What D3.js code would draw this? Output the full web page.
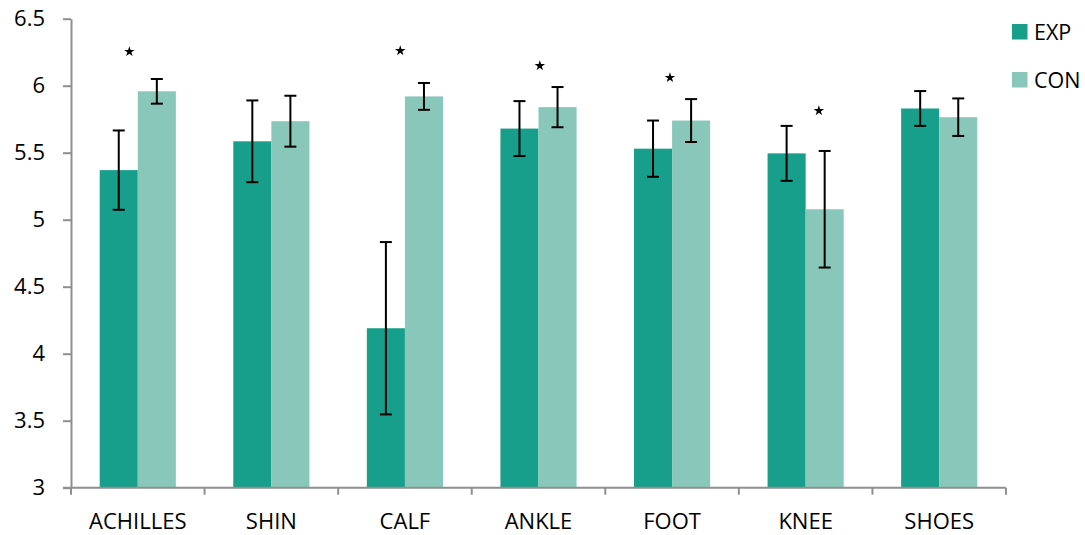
<!DOCTYPE html>
<html>
<head>
<meta charset="utf-8">
<script src="https://cdn.jsdelivr.net/npm/d3@7"></script>
<style>
  html, body { margin: 0; padding: 0; background: #ffffff; }
  svg { display: block; }
  text { font-family: "Open Sans", "Noto Sans", sans-serif; fill: #000; }
</style>
</head>
<body>
<svg id="chart" width="1085" height="535"></svg>
<script>
// Mean scores per body area, experimental vs. control group
const categories = ["ACHILLES", "SHIN", "CALF", "ANKLE", "FOOT", "KNEE", "SHOES"];
const seriesNames = ["EXP", "CON"];
const expMeans = [5.37, 5.585, 4.19, 5.68, 5.53, 5.495, 5.83];
const expErrors = [0.296, 0.305, 0.643, 0.205, 0.21, 0.205, 0.13];
const conMeans = [5.958, 5.735, 5.92, 5.84, 5.74, 5.078, 5.765];
const conErrors = [0.092, 0.19, 0.1, 0.15, 0.16, 0.435, 0.14];
const yTicks = [3, 3.5, 4, 4.5, 5, 5.5, 6, 6.5];

// Significance stars: category, height on the value axis, position across the category slot
const starCategories = ["ACHILLES", "CALF", "ANKLE", "FOOT", "KNEE"];
const starValues = [6.254, 6.261, 6.149, 6.06, 5.813];
const starSlots = [0.437, 0.465, 0.51, 0.484, 0.599];

const colors = { EXP: "#179f8b", CON: "#88c7ba" };
const axisColor = "#8f8f8f";

const svg = d3.select("#chart");
const plotLeft = 71, plotRight = 1006, plotTop = 18.7, plotBottom = 487.7;

const x = d3.scaleBand().domain(categories).range([plotLeft, plotRight]).padding(0);
const bw = x.bandwidth();
const x1 = d3.scaleBand().domain(seriesNames).range([bw * 0.215, bw * 0.785]).padding(0);
const y = d3.scaleLinear().domain([3, 6.5]).range([plotBottom, plotTop]);

const rows = [];
categories.forEach((c, i) => {
  rows.push({ cat: c, series: "EXP", value: expMeans[i], err: expErrors[i] });
  rows.push({ cat: c, series: "CON", value: conMeans[i], err: conErrors[i] });
});

// bars
svg.append("g").selectAll("rect").data(rows).join("rect")
  .attr("x", d => x(d.cat) + x1(d.series))
  .attr("y", d => y(d.value))
  .attr("width", x1.bandwidth())
  .attr("height", d => y(3) - y(d.value))
  .attr("fill", d => colors[d.series]);

// error bars
const capHalf = 6;
const eb = svg.append("g").attr("stroke", "#000").attr("stroke-width", 2);
rows.forEach(d => {
  const cx = x(d.cat) + x1(d.series) + x1.bandwidth() / 2;
  const y0 = y(d.value - d.err), y1 = y(d.value + d.err);
  eb.append("line").attr("x1", cx).attr("x2", cx).attr("y1", y0).attr("y2", y1);
  eb.append("line").attr("x1", cx - capHalf).attr("x2", cx + capHalf).attr("y1", y0).attr("y2", y0);
  eb.append("line").attr("x1", cx - capHalf).attr("x2", cx + capHalf).attr("y1", y1).attr("y2", y1);
});

// y axis
const yAxis = svg.append("g")
  .attr("transform", `translate(${plotLeft},0)`)
  .call(d3.axisLeft(y).tickValues(yTicks).tickFormat(d => String(d)).tickSize(8).tickPadding(18).tickSizeOuter(0));
yAxis.select(".domain").attr("stroke", axisColor).attr("stroke-width", 2);
yAxis.selectAll(".tick line").attr("stroke", axisColor).attr("stroke-width", 2);
yAxis.selectAll(".tick text").attr("font-size", 22).attr("font-family", '"Open Sans", sans-serif').attr("fill", "#000");

// x axis: line, boundary ticks, category labels
const xg = svg.append("g");
xg.append("line").attr("x1", plotLeft - 8).attr("x2", plotRight).attr("y1", plotBottom).attr("y2", plotBottom)
  .attr("stroke", axisColor).attr("stroke-width", 2);
const bounds = categories.map(c => x(c)).concat([x.range()[1]]);
xg.selectAll(".bt").data(bounds).join("line")
  .attr("x1", d => d).attr("x2", d => d).attr("y1", plotBottom).attr("y2", plotBottom + 7)
  .attr("stroke", axisColor).attr("stroke-width", 2);
xg.selectAll(".cl").data(categories).join("text")
  .attr("x", d => x(d) + bw / 2).attr("y", 529)
  .attr("text-anchor", "middle").attr("font-size", 22)
  .text(d => d);

// significance stars
const star = d3.symbol().type(d3.symbolStar).size(34);
svg.append("g").selectAll("path").data(starCategories).join("path")
  .attr("d", star)
  .attr("fill", "#000")
  .attr("transform", (c, i) => `translate(${x(c) + bw * starSlots[i]},${y(starValues[i])})`);

// legend
const lg = svg.append("g");
seriesNames.forEach((s, i) => {
  const ly = 24 + i * 48;
  lg.append("rect").attr("x", 1012).attr("y", ly).attr("width", 15.5).attr("height", 15.5).attr("fill", colors[s]);
  lg.append("text").attr("x", 1034).attr("y", ly + 15.5).attr("font-size", 21.5).text(s);
});
</script>
</body>
</html>
